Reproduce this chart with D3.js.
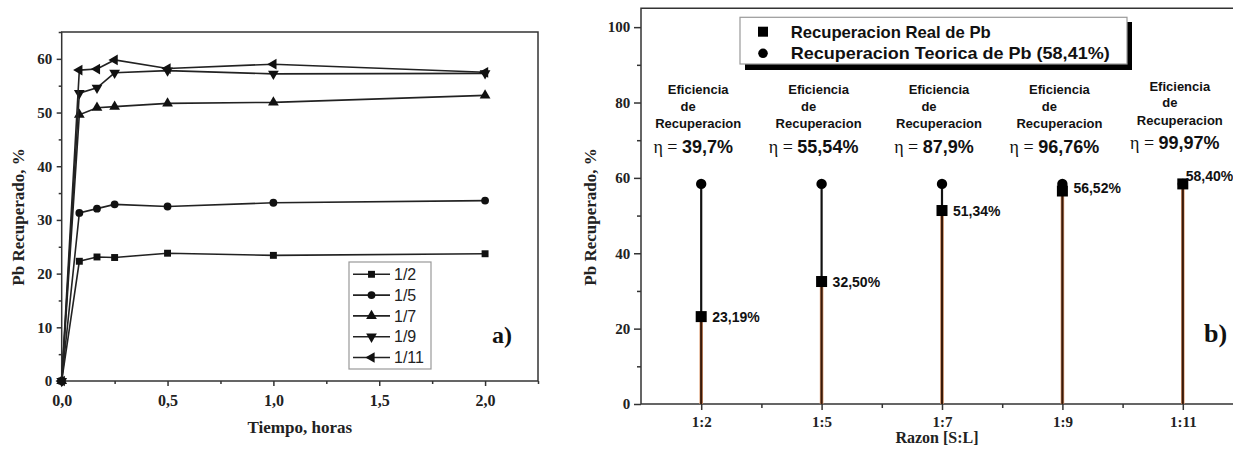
<!DOCTYPE html>
<html><head><meta charset="utf-8">
<script src="https://cdn.jsdelivr.net/npm/d3@7"></script>
<style>
html,body{margin:0;padding:0;background:#fff;}
svg{display:block;}
.serif{font-family:"Liberation Serif","Times New Roman",serif;font-weight:bold;}
.sans{font-family:"Liberation Sans",Arial,sans-serif;font-weight:bold;}
</style></head>
<body>
<svg id="chart" width="1233" height="450"></svg>
<script>
// ---------- Panel a) data ----------
const timeHours = [0, 0.0833, 0.1667, 0.25, 0.5, 1, 2];
const seriesNames = ["1/2", "1/5", "1/7", "1/9", "1/11"];
const s1_2  = [0, 22.3, 23.1, 23.0, 23.8, 23.4, 23.7];
const s1_5  = [0, 31.3, 32.1, 32.9, 32.5, 33.2, 33.6];
const s1_7  = [0, 49.6, 50.9, 51.1, 51.7, 51.9, 53.2];
const s1_9  = [0, 53.6, 54.6, 57.4, 57.8, 57.2, 57.3];
const s1_11 = [0, 57.9, 58.1, 59.8, 58.2, 59.0, 57.5];
const xTicksA = [0, 0.5, 1.0, 1.5, 2.0];
const yTicksA = [0, 10, 20, 30, 40, 50, 60];

// ---------- Panel b) data ----------
const ratios = ["1:2", "1:5", "1:7", "1:9", "1:11"];
const realRecovery = [23.19, 32.50, 51.34, 56.52, 58.40];
const realLabels = ["23,19%", "32,50%", "51,34%", "56,52%", "58,40%"];
const theoreticalRecovery = 58.41;
const efficiency = ["39,7%", "55,54%", "87,9%", "96,76%", "99,97%"];
const yTicksB = [0, 20, 40, 60, 80, 100];

const svg = d3.select("#chart");
const axisColor = "#333";

// ================= Panel a =================
const A = {left: 61.7, right: 538, top: 32, bottom: 381};
const xA = d3.scaleLinear().domain([0, 2.25]).range([A.left, A.right]);
const yA = d3.scaleLinear().domain([0, 65]).range([A.bottom, A.top]);
const gA = svg.append("g");

// frame
gA.append("rect").attr("x", A.left).attr("y", A.top)
  .attr("width", A.right - A.left).attr("height", A.bottom - A.top)
  .attr("fill", "none").attr("stroke", axisColor).attr("stroke-width", 1.5);

// axes
const axA_x = gA.append("g").attr("transform", `translate(0,${A.bottom})`)
  .call(d3.axisBottom(xA).tickValues(xTicksA).tickSize(5).tickSizeOuter(0)
    .tickFormat(d => d3.format(".1f")(d).replace(".", ",")));
gA.append("g").attr("transform", `translate(0,${A.bottom})`)
  .call(d3.axisBottom(xA).tickValues(d3.range(0.25, 2.26, 0.5)).tickSize(3).tickSizeOuter(0).tickFormat(""));
const axA_y = gA.append("g").attr("transform", `translate(${A.left},0)`)
  .call(d3.axisLeft(yA).tickValues(yTicksA).tickSize(5).tickSizeOuter(0));
gA.append("g").attr("transform", `translate(${A.left},0)`)
  .call(d3.axisLeft(yA).tickValues(d3.range(5, 66, 10)).tickSize(3).tickSizeOuter(0).tickFormat(""));
gA.selectAll(".domain").remove();
gA.selectAll(".tick line").attr("stroke", axisColor).attr("stroke-width", 1.5);
axA_x.selectAll("text").attr("class", "serif").attr("font-size", 16).attr("fill", "#222").attr("dy", "1.05em");
axA_y.selectAll("text").attr("class", "serif").attr("font-size", 15).attr("fill", "#222").attr("dx", "-0.1em");

// titles
gA.append("text").attr("class", "serif").attr("font-size", 17).attr("fill", "#222")
  .attr("text-anchor", "middle").attr("x", (A.left + A.right) / 2).attr("y", 433)
  .text("Tiempo, horas");
gA.append("text").attr("class", "serif").attr("font-size", 17).attr("fill", "#222")
  .attr("text-anchor", "middle").attr("transform", "translate(24,217) rotate(-90)")
  .text("Pb Recuperado, %");
gA.append("text").attr("class", "serif").attr("font-size", 24).attr("fill", "#111")
  .attr("x", 492).attr("y", 343).text("a)");

// series
const seriesA = [s1_2, s1_5, s1_7, s1_9, s1_11];
const symbolsA = [
  {type: d3.symbolSquare, size: 48, rot: 0},
  {type: d3.symbolCircle, size: 48, rot: 0},
  {type: d3.symbolTriangle, size: 50, rot: 0},
  {type: d3.symbolTriangle, size: 50, rot: 180},
  {type: d3.symbolTriangle, size: 50, rot: -90}
];
const line = d3.line().x((d, i) => xA(timeHours[i])).y(d => yA(d));
seriesA.forEach((vals, k) => {
  gA.append("path").datum(vals).attr("d", line)
    .attr("fill", "none").attr("stroke", "#222").attr("stroke-width", 1.6);
  const sym = d3.symbol().type(symbolsA[k].type).size(symbolsA[k].size);
  gA.selectAll(null).data(vals).enter().append("path")
    .attr("d", sym)
    .attr("transform", (d, i) => `translate(${xA(timeHours[i])},${yA(d)}) rotate(${symbolsA[k].rot})`)
    .attr("fill", "#111");
});

// legend a
const legA = gA.append("g");
legA.append("rect").attr("x", 349).attr("y", 262).attr("width", 82).attr("height", 107)
  .attr("fill", "#fff").attr("stroke", "#999").attr("stroke-width", 1.2);
seriesNames.forEach((name, k) => {
  const yy = 274.3 + k * 20.8;
  legA.append("line").attr("x1", 353).attr("x2", 390).attr("y1", yy).attr("y2", yy)
    .attr("stroke", "#222").attr("stroke-width", 1.6);
  legA.append("path").attr("d", d3.symbol().type(symbolsA[k].type).size(symbolsA[k].size)())
    .attr("transform", `translate(371.5,${yy}) rotate(${symbolsA[k].rot})`).attr("fill", "#111");
  legA.append("text").attr("x", 394).attr("y", yy).attr("dy", "0.36em")
    .attr("font-family", "Liberation Sans, Arial, sans-serif").attr("font-size", 16).attr("fill", "#222")
    .text(name);
});

// ================= Panel b =================
const B = {left: 641, right: 1243, top: 8.3, bottom: 404};
const xB = d3.scaleLinear().domain([0.5, 5.5]).range([B.left, B.right]);
const yB = d3.scaleLinear().domain([0, 105]).range([B.bottom, B.top]);
const gB = svg.append("g");

// frame lines (left, top, bottom)
gB.append("path").attr("d", `M${B.right},${B.top}H${B.left}V${B.bottom}H${B.right}`)
  .attr("fill", "none").attr("stroke", axisColor).attr("stroke-width", 1.5);

const axB_x = gB.append("g").attr("transform", `translate(0,${B.bottom})`)
  .call(d3.axisBottom(xB).tickValues([1, 2, 3, 4, 5]).tickSize(6).tickSizeOuter(0)
    .tickFormat((d) => ratios[d - 1]));
gB.append("g").attr("transform", `translate(0,${B.bottom})`)
  .call(d3.axisBottom(xB).tickValues([1.5, 2.5, 3.5, 4.5]).tickSize(4).tickSizeOuter(0).tickFormat(""));
const axB_y = gB.append("g").attr("transform", `translate(${B.left},0)`)
  .call(d3.axisLeft(yB).tickValues(yTicksB).tickSize(7).tickSizeOuter(0));
gB.append("g").attr("transform", `translate(${B.left},0)`)
  .call(d3.axisLeft(yB).tickValues([10, 30, 50, 70, 90]).tickSize(4).tickSizeOuter(0).tickFormat(""));
gB.selectAll(".domain").remove();
gB.selectAll(".tick line").attr("stroke", axisColor).attr("stroke-width", 1.5);
axB_x.selectAll("text").attr("class", "serif").attr("font-size", 15).attr("fill", "#222").attr("dy", "0.95em");
axB_y.selectAll("text").attr("class", "serif").attr("font-size", 15).attr("fill", "#222").attr("dx", "-0.05em");

gB.append("text").attr("class", "serif").attr("font-size", 16).attr("fill", "#222")
  .attr("text-anchor", "middle").attr("x", 937).attr("y", 443).text("Razon [S:L]");
gB.append("text").attr("class", "serif").attr("font-size", 17).attr("fill", "#222")
  .attr("text-anchor", "middle").attr("transform", "translate(596,217) rotate(-90)")
  .text("Pb Recuperado, %");
gB.append("text").attr("class", "serif").attr("font-size", 26).attr("fill", "#111")
  .attr("x", 1204).attr("y", 342).text("b)");

// stems
ratios.forEach((r, i) => {
  const cx = xB(i + 1);
  gB.append("line").attr("x1", cx).attr("x2", cx).attr("y1", yB(0)).attr("y2", yB(theoreticalRecovery))
    .attr("stroke", "#111").attr("stroke-width", 2.2);
  gB.append("line").attr("x1", cx).attr("x2", cx).attr("y1", yB(0)).attr("y2", yB(realRecovery[i]))
    .attr("stroke", "#e0a278").attr("stroke-width", 3.6);
  gB.append("line").attr("x1", cx).attr("x2", cx).attr("y1", yB(0)).attr("y2", yB(realRecovery[i]))
    .attr("stroke", "#3a1a0a").attr("stroke-width", 2.2);
  // theoretical marker
  gB.append("circle").attr("cx", cx).attr("cy", yB(theoreticalRecovery)).attr("r", 5.2).attr("fill", "#000");
  // real marker
  gB.append("rect").attr("x", cx - 5.5).attr("y", yB(realRecovery[i]) - 5.5)
    .attr("width", 11).attr("height", 11).attr("fill", "#000");
  // value label
  const raise = i === 4 ? 8 : (i === 3 ? 3 : 0);
  gB.append("text").attr("class", "sans").attr("font-size", 14).attr("fill", "#111")
    .attr("x", cx + (i === 4 ? 3 : 11)).attr("y", yB(realRecovery[i]) - raise).attr("dy", "0.36em")
    .text(realLabels[i]);
  // efficiency annotation
  const ax = cx - 3;
  const lift = i === 4 ? 1 : 0;
  gB.append("text").attr("class", "sans").attr("font-size", 13).attr("fill", "#111")
    .attr("text-anchor", "middle").attr("x", ax).attr("y", yB(83.4 + lift)).attr("dy", "0.36em").text("Eficiencia");
  gB.append("text").attr("class", "sans").attr("font-size", 13).attr("fill", "#111")
    .attr("text-anchor", "middle").attr("x", ax - 10).attr("y", yB(79 + lift)).attr("dy", "0.36em").text("de");
  gB.append("text").attr("class", "sans").attr("font-size", 13).attr("fill", "#111")
    .attr("text-anchor", "middle").attr("x", ax).attr("y", yB(74.4 + lift)).attr("dy", "0.36em").text("Recuperacion");
  const et = gB.append("text").attr("text-anchor", "middle").attr("x", cx - 8)
    .attr("y", yB(68.2 + lift)).attr("dy", "0.36em").attr("fill", "#111");
  et.append("tspan").attr("font-family", "Liberation Serif, Times New Roman, serif").attr("font-size", 18)
    .text("η = ");
  et.append("tspan").attr("class", "sans").attr("font-size", 18).text(efficiency[i]);
});

// legend b
const legB = gB.append("g");
legB.append("rect").attr("x", 745).attr("y", 22).attr("width", 387).attr("height", 48).attr("fill", "#000");
legB.append("rect").attr("x", 740).attr("y", 17.3).attr("width", 387).attr("height", 46.7)
  .attr("fill", "#fff").attr("stroke", "#999").attr("stroke-width", 1.2);
legB.append("rect").attr("x", 758).attr("y", 26.7).attr("width", 10).attr("height", 10).attr("fill", "#000");
legB.append("circle").attr("cx", 763).attr("cy", 53.3).attr("r", 4.8).attr("fill", "#000");
legB.append("text").attr("class", "sans").attr("font-size", 17).attr("fill", "#111")
  .attr("x", 790.7).attr("y", 31.7).attr("dy", "0.36em").attr("textLength", 200).attr("lengthAdjust", "spacingAndGlyphs")
  .text("Recuperacion Real de Pb");
legB.append("text").attr("class", "sans").attr("font-size", 17).attr("fill", "#111")
  .attr("x", 790.7).attr("y", 53.3).attr("dy", "0.36em").attr("textLength", 319).attr("lengthAdjust", "spacingAndGlyphs")
  .text("Recuperacion Teorica de Pb (58,41%)");
</script>
</body></html>
